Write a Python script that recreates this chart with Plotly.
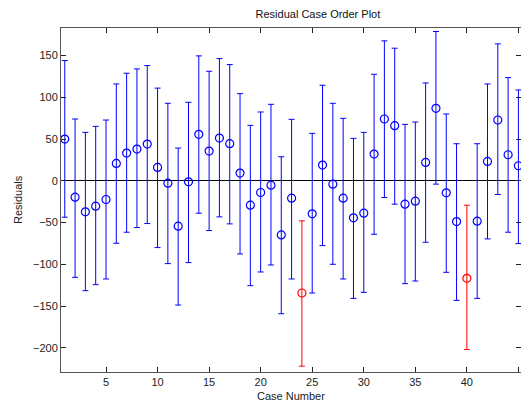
import plotly.graph_objects as go

# Case numbers (x categories)
cases = list(range(1, 46))

# Residuals (circle centres)
residuals = [50, -19.6, -37.2, -30.4, -22.4, 20.8, 33.2, 38, 44, 16,
             -2.8, -54.4, -1.2, 55.6, 35.6, 51.2, 44.4, 9.2, -29.2, -14,
             -5.2, -64.8, -20.8, -134.4, -39.6, 18.8, -4, -20.8, -44.4, -38.8,
             32, 74, 66, -28, -24.4, 22, 86.8, -14.4, -48.8, -116.8,
             -48.4, 23.2, 72.8, 31.2, 18]

# Upper ends of the confidence intervals
upper = [144, 74, 58, 65.2, 72.8, 116, 128.8, 134, 138, 111,
         92.8, 39.2, 94, 149.6, 131.2, 146.4, 139.2, 104.4, 66.4, 82.4,
         91.6, 28.8, 73.6, -48, 56.8, 114.4, 92.8, 74.8, 50.8, 58,
         127.6, 167.6, 158.8, 67.6, 70.4, 117.2, 178.8, 80, 44.4, -29.2,
         44.4, 116, 164, 123.6, 108.8]

# Lower ends of the confidence intervals
lower = [-43.6, -115.6, -131.6, -124.4, -117.6, -74.8, -61.6, -56, -51.2, -80,
         -99.2, -148.8, -98, -38.8, -59.6, -43.2, -51.6, -87.6, -125.6, -109.2,
         -100.8, -159.2, -117.6, -222, -134.4, -77.6, -100, -117.6, -140.8, -133.6,
         -64, -20, -28, -123.2, -120, -73.6, -4, -109.6, -143.2, -202,
         -140.8, -69.6, -16.4, -61.6, -75.2]

y_ticks = [-200, -150, -100, -50, 0, 50, 100, 150]
x_ticks = [5, 10, 15, 20, 25, 30, 35, 40, 45]

# Split into intervals containing zero (blue) and outliers (red)
def subset(flag):
    idx = [i for i in range(len(cases)) if flag(i)]
    return ([cases[i] for i in idx],
            [residuals[i] for i in idx],
            [upper[i] - residuals[i] for i in idx],
            [residuals[i] - lower[i] for i in idx])

is_out = lambda i: lower[i] > 0 or upper[i] < 0
groups = [(subset(lambda i: not is_out(i)), "#0000ff"),
          (subset(is_out), "#ff0000")]

fig = go.Figure()
for (xs, ys, ep, em), col in groups:
    fig.add_trace(go.Scatter(
        x=xs, y=ys, mode="markers",
        marker=dict(symbol="circle-open", size=8, color=col,
                    line=dict(width=1.2, color=col)),
        error_y=dict(type="data", symmetric=False, array=ep, arrayminus=em,
                     color=col, thickness=1, width=3),
        showlegend=False, hoverinfo="skip"))

font = dict(family="Liberation Sans, Arial, Helvetica, sans-serif", size=11, color="#222")

W, H = 521, 404
L, R, T, B = 61, 0, 28, 32

fig.update_layout(
    width=W, height=H,
    margin=dict(l=L, r=R, t=T, b=B, autoexpand=False),
    paper_bgcolor="white", plot_bgcolor="white",
    font=font,
    title=dict(text="Residual Case Order Plot", x=(L + W) / 2 / W, xanchor="center",
               xref="paper", y=1 - 14 / H, yanchor="middle",
               font=dict(size=11, color="#111")),
    xaxis=dict(range=[0.635, 45.25], tickvals=x_ticks, ticks="inside", ticklen=5,
               tickcolor="#222", showline=True, linecolor="#555", linewidth=1,
               mirror="ticks", showgrid=False, zeroline=False, automargin=False),
    yaxis=dict(range=[-229, 183], tickvals=y_ticks, ticks="inside", ticklen=5,
               tickcolor="#222", showline=True, linecolor="#555", linewidth=1,
               mirror="ticks", showgrid=False, zeroline=True,
               zerolinecolor="black", zerolinewidth=1, automargin=False),
    annotations=[
        dict(text="Case Number", xref="paper", yref="paper",
             x=0.5, y=-(396 - (H - B)) / (H - T - B), xanchor="center", yanchor="middle",
             showarrow=False, font=dict(size=11, color="#222")),
        dict(text="Residuals", xref="paper", yref="paper",
             x=-(L - 18) / (W - L - R), y=0.5, xanchor="center", yanchor="middle",
             textangle=-90, showarrow=False, font=dict(size=11, color="#222")),
    ],
)

fig.write_html("out.html",
               config={"displayModeBar": False},
               post_script="document.body.style.margin='0';document.body.style.overflow='hidden';")
